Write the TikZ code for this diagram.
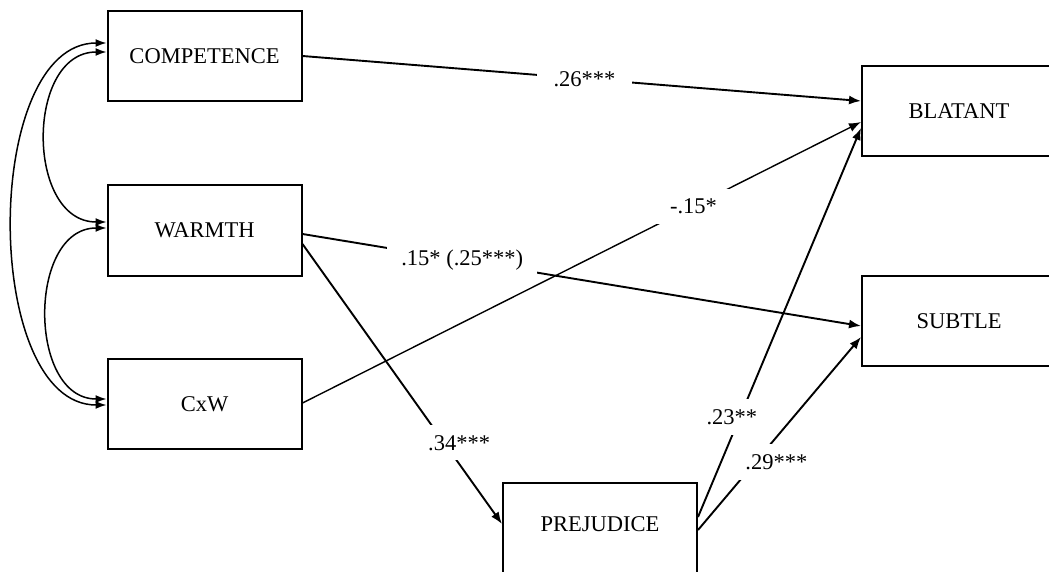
\documentclass[tikz,border=0pt]{standalone}
\usepackage{fontspec}
\setmainfont{Liberation Serif}
\usetikzlibrary{arrows.meta}
\begin{document}
\begin{tikzpicture}[x=1pt,y=-1pt,
  var/.style={draw, line width=2pt, minimum width=194pt, minimum height=90pt,
    inner sep=0pt, font=\fontsize{22.5}{27}\selectfont},
  effect/.style={line width=1.9pt, -{Latex[length=12pt,width=9pt]}},
  coef/.style={fill=white, inner xsep=14pt, inner ysep=10pt,
    font=\fontsize{22.5}{27}\selectfont},
  cov/.style={line width=1.5pt,
    {Latex[length=11pt,width=8pt]}-{Latex[length=11pt,width=8pt]}}
]
\useasboundingbox (0,0) rectangle (1049,572);
\clip (0,0) rectangle (1049,572);

% variables
\node[var] (comp) at (204.5,56)  {COMPETENCE};
\node[var] (warm) at (204.5,230.5) {WARMTH};
\node[var] (cxw)  at (204.5,404) {CxW};
\node[var] (blat) at (959,111)   {BLATANT};
\node[var] (subt) at (959,321)   {SUBTLE};
\node[var, text depth=8pt] (prej) at (600,528) {PREJUDICE};

% correlations among predictors
\draw[cov] ([yshift=4pt]comp.west) .. controls +(-81,0) and +(-81,0) .. ([yshift=8.5pt]warm.west);
\draw[cov] ([yshift=2.5pt]warm.west) .. controls +(-79,0) and +(-79,0) .. ([yshift=5pt]cxw.west);
\draw[cov] ([yshift=13pt]comp.west) .. controls +(-125,0) and +(-125,0) .. ([yshift=-1pt]cxw.west);

% structural paths
\draw[effect] (comp.east) -- node[coef, pos=0.505, inner xsep=17pt] {.26***} ([yshift=10pt]blat.west);
\draw[effect] ([yshift=-3.5pt]warm.east) -- node[coef, pos=0.286] {.15* (.25***)} ([yshift=-5pt]subt.west);
\draw[effect] ([yshift=-13.5pt]warm.east) -- node[coef, pos=0.71, xshift=15pt] {.34***} ([yshift=4pt]prej.west);
\draw[effect, line width=1.4pt] ([yshift=1pt]cxw.east) -- node[coef, pos=0.70] {-.15*} ([yshift=-11pt]blat.west);
\draw[effect] ([yshift=11pt]prej.east) -- node[coef, pos=0.257, xshift=-8pt] {.23**} ([yshift=-17pt]blat.west);
\draw[effect] ([yshift=-2pt]prej.east) -- node[coef, pos=0.352, xshift=21pt] {.29***} ([yshift=-16pt]subt.west);
\end{tikzpicture}
\end{document}
